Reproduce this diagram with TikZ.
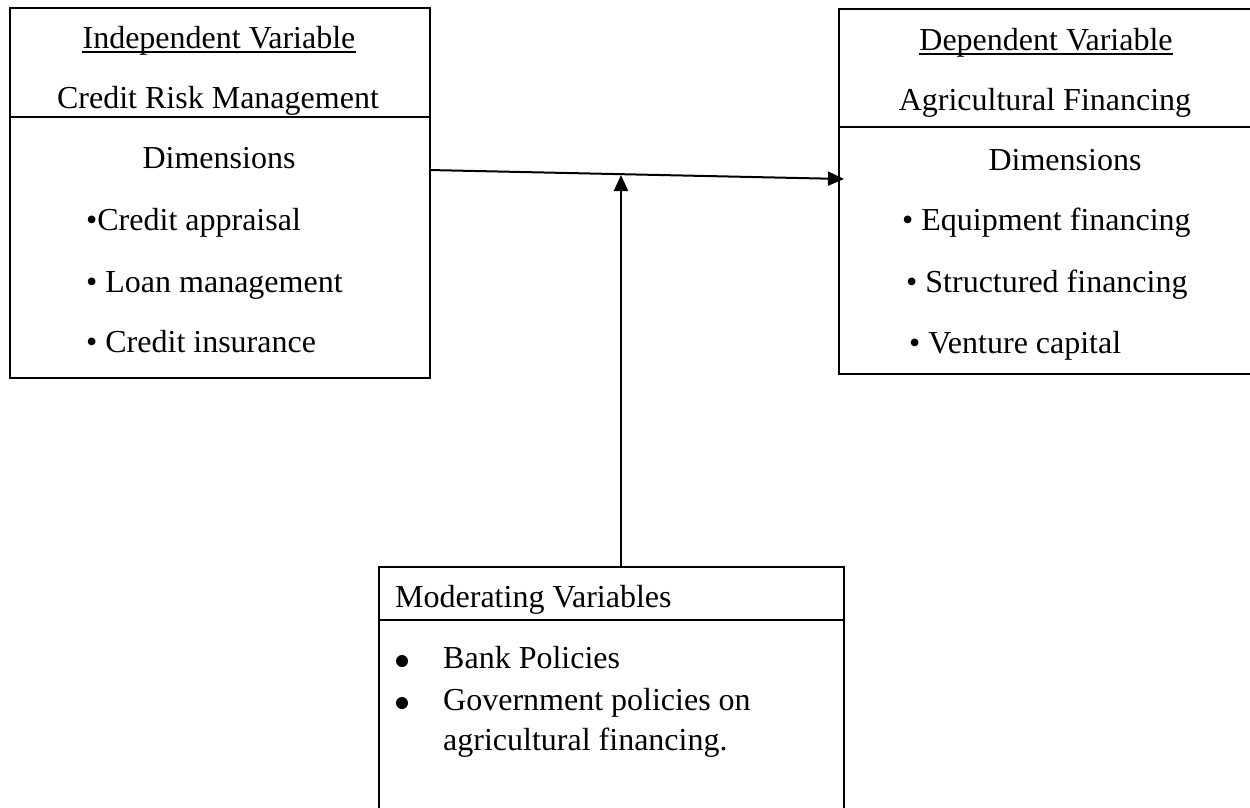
\documentclass[tikz,border=0pt]{standalone}
\usepackage{fontspec}
\setmainfont{Liberation Serif}
\usepackage{tikz}
\usetikzlibrary{arrows.meta,positioning,calc}
\tikzstyle{varbox} = [rectangle, draw=black, line width=2pt, inner sep=0pt, anchor=north west]
\tikzstyle{txt} = [inner sep=0pt, font=\fontsize{32}{38}\selectfont]
\tikzstyle{arrow} = [line width=2pt, -{Triangle[length=16pt,width=14pt]}]
\tikzstyle{bigdot} = [circle, fill=black, inner sep=0pt, minimum size=12pt]

\begin{document}
\begin{tikzpicture}[x=1pt,y=-1pt]
  \useasboundingbox (0,0) rectangle (1250,807);

  % the three boxes
  \node[varbox, minimum width=420pt, minimum height=370pt] (ivbox) at (9,7) {};
  \node[varbox, minimum width=414pt, minimum height=365pt] (dvbox) at (838,8) {};
  \node[varbox, line width=1.5pt, minimum width=465pt, minimum height=270pt] (mvbox) at (378,566) {};

  \draw[line width=2pt] ($(ivbox.north west)+(0,110)$) -- ($(ivbox.north east)+(0,110)$);
  \draw[line width=2pt] ($(dvbox.north west)+(0,119)$) -- ($(dvbox.north east)+(0,119)$);
  \draw[line width=1.5pt] ($(mvbox.north west)+(0,54)$) -- ($(mvbox.north east)+(0,54)$);

  % independent variable
  \node[txt, anchor=base] (ivtitle) at (219,48) {Independent Variable};
  \draw[line width=1.5pt] ($(ivtitle.base west)+(0,4)$) -- ($(ivtitle.base east)+(0,4)$);
  \node[txt, anchor=base] (ivname) at (218,108) {Credit Risk Management};
  \node[txt, anchor=base] (ivdim) at (219,168) {Dimensions};
  \node[txt, anchor=base west] (iva) at (86,230) {\textbullet Credit appraisal};
  \node[txt, anchor=base west] (ivb) at (86,292) {\textbullet{} Loan management};
  \node[txt, anchor=base west] (ivc) at (86,352) {\textbullet{} Credit insurance};

  % dependent variable
  \node[txt, anchor=base] (dvtitle) at (1046,50) {Dependent Variable};
  \draw[line width=1.5pt] ($(dvtitle.base west)+(0,4)$) -- ($(dvtitle.base east)+(0,4)$);
  \node[txt, anchor=base] (dvname) at (1045,110) {Agricultural Financing};
  \node[txt, anchor=base] (dvdim) at (1065,170) {Dimensions};
  \node[txt, anchor=base west] (dva) at (902,230) {\textbullet{} Equipment financing};
  \node[txt, anchor=base west] (dvb) at (906,292) {\textbullet{} Structured financing};
  \node[txt, anchor=base west] (dvc) at (909,353) {\textbullet{} Venture capital};

  % moderating variables
  \node[txt, anchor=base west] (mvtitle) at (395,607) {Moderating Variables};
  \node[bigdot] (mvdota) at (402,661) {};
  \node[txt, anchor=base west] (mva) at (443,668) {Bank Policies};
  \node[bigdot] (mvdotb) at (402,703) {};
  \node[txt, anchor=base west] (mvb) at (443,710) {Government policies on};
  \node[txt, anchor=base west] (mvc) at (443,750) {agricultural financing.};

  % connectors
  \coordinate (ivout) at (429,170);
  \coordinate (dvin) at (844,179);
  \coordinate (mvtip) at (621,175);
  \draw[arrow] (ivout) -- (dvin);
  \draw[arrow] (mvbox.north -| mvtip) -- (mvtip);
\end{tikzpicture}
\end{document}
